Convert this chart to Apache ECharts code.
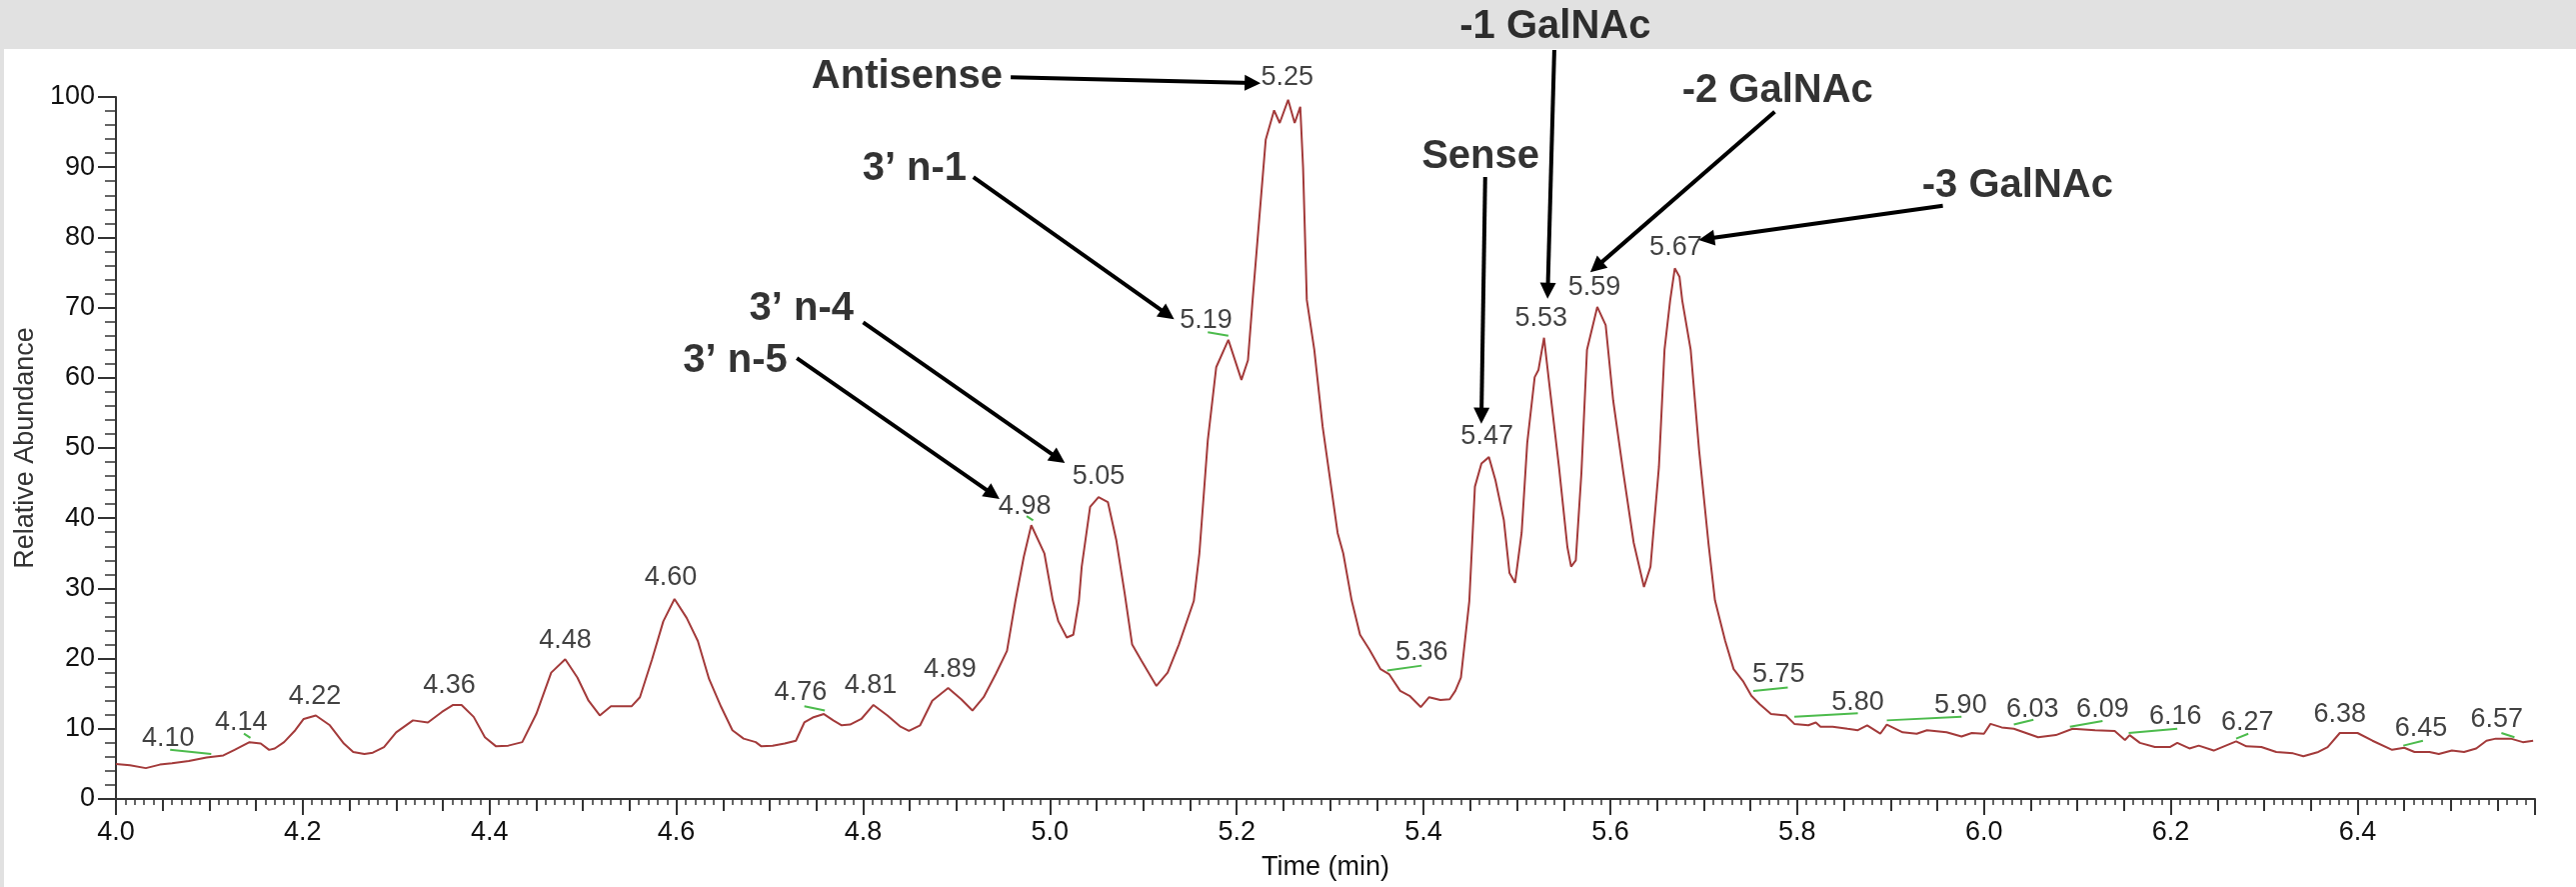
<!DOCTYPE html>
<html>
<head>
<meta charset="utf-8">
<title>Chromatogram</title>
<script src="https://cdn.jsdelivr.net/npm/echarts@6/dist/echarts.min.js"></script>
<style>
  html, body { margin: 0; padding: 0; background: #fff; }
  #chart { width: 2577px; height: 887px; }
</style>
</head>
<body>
<div id="chart"></div>
<script>
// trace: retention time (min) / relative abundance
const timeMin = [
  4.000, 4.015, 4.032, 4.047, 4.060, 4.078, 4.097, 4.115, 4.127, 4.143, 4.155, 4.164, 4.170, 4.180, 4.192,
  4.201, 4.214, 4.229, 4.244, 4.254, 4.266, 4.275, 4.287, 4.300, 4.318, 4.334, 4.349, 4.361, 4.370, 4.383,
  4.395, 4.407, 4.420, 4.435, 4.450, 4.466, 4.481, 4.494, 4.506, 4.518, 4.530, 4.552, 4.561, 4.574, 4.586,
  4.598, 4.611, 4.623, 4.635, 4.648, 4.660, 4.672, 4.685, 4.691, 4.703, 4.716, 4.728, 4.737, 4.746, 4.758,
  4.768, 4.777, 4.786, 4.798, 4.811, 4.826, 4.840, 4.849, 4.861, 4.874, 4.891, 4.905, 4.917, 4.929, 4.942,
  4.954, 4.963, 4.972, 4.980, 4.994, 5.003, 5.009, 5.018, 5.025, 5.031, 5.034, 5.043, 5.052, 5.062, 5.071,
  5.080, 5.088, 5.098, 5.114, 5.126, 5.138, 5.154, 5.160, 5.169, 5.178, 5.191, 5.205, 5.212, 5.217, 5.231,
  5.240, 5.246, 5.255, 5.262, 5.268, 5.271, 5.275, 5.283, 5.292, 5.308, 5.314, 5.323, 5.332, 5.342, 5.354,
  5.363, 5.375, 5.385, 5.397, 5.406, 5.418, 5.428, 5.434, 5.440, 5.449, 5.455, 5.462, 5.470, 5.477, 5.486,
  5.492, 5.498, 5.505, 5.511, 5.519, 5.523, 5.529, 5.535, 5.545, 5.554, 5.558, 5.563, 5.569, 5.575, 5.586,
  5.595, 5.603, 5.614, 5.625, 5.636, 5.643, 5.652, 5.658, 5.664, 5.669, 5.674, 5.677, 5.686, 5.695, 5.705,
  5.712, 5.723, 5.732, 5.742, 5.751, 5.760, 5.772, 5.788, 5.797, 5.812, 5.820, 5.825, 5.838, 5.854, 5.865,
  5.875, 5.889, 5.896, 5.913, 5.928, 5.939, 5.960, 5.976, 5.987, 6.000, 6.007, 6.019, 6.032, 6.045, 6.058,
  6.077, 6.095, 6.119, 6.140, 6.151, 6.156, 6.167, 6.183, 6.199, 6.207, 6.220, 6.230, 6.246, 6.257, 6.270,
  6.281, 6.297, 6.313, 6.331, 6.342, 6.358, 6.368, 6.381, 6.400, 6.416, 6.437, 6.450, 6.461, 6.477, 6.487,
  6.501, 6.514, 6.527, 6.538, 6.548, 6.564, 6.577, 6.588
];
const abundance = [
  5.0, 4.8, 4.4, 4.9, 5.1, 5.4, 5.9, 6.2, 7.0, 8.1, 7.9, 7.0, 7.2, 8.1, 9.8,
  11.4, 11.9, 10.5, 7.9, 6.7, 6.4, 6.6, 7.4, 9.5, 11.2, 10.9, 12.4, 13.4, 13.4, 11.7,
  8.8, 7.5, 7.6, 8.1, 12.1, 18.0, 19.9, 17.3, 14.0, 11.9, 13.2, 13.2, 14.5, 19.9, 25.3,
  28.5, 25.8, 22.5, 17.1, 13.1, 9.8, 8.6, 8.1, 7.5, 7.6, 7.9, 8.3, 10.9, 11.6, 12.1,
  11.2, 10.5, 10.6, 11.4, 13.4, 11.9, 10.3, 9.7, 10.5, 14.0, 15.8, 14.2, 12.6, 14.5, 17.8,
  21.1, 28.2, 34.5, 39.0, 35.0, 28.3, 25.3, 23.0, 23.4, 28.2, 33.1, 41.6, 43.0, 42.3, 36.9,
  29.3, 22.0, 19.7, 16.1, 18.0, 22.0, 28.2, 35.0, 51.1, 61.5, 65.4, 59.7, 62.5, 71.1, 93.9,
  98.1, 96.3, 99.6, 96.3, 98.6, 90.0, 71.1, 64.0, 53.0, 37.9, 35.0, 28.3, 23.4, 21.3, 18.5,
  17.8, 15.4, 14.7, 13.1, 14.5, 14.1, 14.2, 15.4, 17.3, 28.2, 44.5, 47.8, 48.7, 45.4, 39.7,
  32.2, 30.8, 37.9, 50.7, 60.1, 61.1, 65.7, 58.7, 47.3, 35.9, 33.1, 34.0, 46.4, 64.0, 70.1,
  67.5, 56.8, 46.4, 36.5, 30.2, 33.1, 47.3, 64.0, 71.0, 75.6, 74.4, 71.0, 64.0, 49.7, 36.5,
  28.3, 22.5, 18.5, 16.8, 14.7, 13.5, 12.1, 11.9, 10.7, 10.5, 10.9, 10.3, 10.3, 10.0, 9.8,
  10.5, 9.3, 10.6, 9.5, 9.3, 9.8, 9.5, 8.9, 9.4, 9.3, 10.7, 10.2, 10.0, 9.4, 8.8,
  9.1, 10.0, 9.8, 9.7, 8.4, 9.1, 8.0, 7.4, 7.4, 8.0, 7.2, 7.6, 6.9, 7.5, 8.2,
  7.5, 7.4, 6.7, 6.5, 6.1, 6.7, 7.4, 9.4, 9.4, 8.3, 7.0, 7.3, 6.7, 6.7, 6.4,
  6.9, 6.7, 7.2, 8.3, 8.6, 8.6, 8.1, 8.3
];

// retention-time labels printed over the peaks (text, time, height)
const peakText = ['4.10', '4.14', '4.22', '4.36', '4.48', '4.60', '4.76', '4.81', '4.89', '4.98', '5.05',
  '5.19', '5.25', '5.36', '5.47', '5.53', '5.59', '5.67', '5.75', '5.80', '5.90', '6.03', '6.09', '6.16',
  '6.27', '6.38', '6.45', '6.57'];
const peakTime = [4.056, 4.134, 4.213, 4.357, 4.481, 4.594, 4.733, 4.808, 4.893, 4.973, 5.052,
  5.167, 5.254, 5.398, 5.468, 5.526, 5.583, 5.670, 5.780, 5.865, 5.975, 6.052, 6.127, 6.205,
  6.282, 6.381, 6.468, 6.549];
const peakLevel = [8.6, 10.9, 14.6, 16.1, 22.6, 31.6, 15.1, 16.1, 18.4, 41.7, 45.9,
  68.1, 102.7, 20.9, 51.6, 68.5, 72.8, 78.6, 17.7, 13.8, 13.3, 12.8, 12.7, 11.7,
  10.9, 12.1, 10.0, 11.3];

// integration baselines: [t1, v1, t2, v2]
const baselines = [
  [4.058, 7.0, 4.102, 6.4], [4.137, 9.3, 4.144, 8.7], [4.737, 13.2, 4.759, 12.6],
  [4.975, 40.3, 4.982, 39.7], [5.169, 66.5, 5.191, 66.0], [5.361, 18.3, 5.398, 19.0],
  [5.753, 15.4, 5.790, 15.9], [5.797, 11.7, 5.865, 12.2], [5.896, 11.2, 5.976, 11.7],
  [6.032, 10.6, 6.053, 11.3], [6.092, 10.3, 6.127, 11.1], [6.155, 9.4, 6.207, 10.0],
  [6.270, 8.6, 6.283, 9.3], [6.449, 7.6, 6.470, 8.3], [6.554, 9.4, 6.568, 8.8]
];

// peak identities and their arrows
const annoText = ['Antisense', '3’ n-1', '3’ n-4', '3’ n-5', 'Sense', '-1 GalNAc', '-2 GalNAc', '-3 GalNAc'];
const annoTime = [4.847, 4.855, 4.734, 4.663, 5.461, 5.541, 5.779, 6.036];
const annoLevel = [102.8, 89.7, 69.8, 62.4, 91.5, 110.0, 100.9, 87.3];
const arrows = [
  [4.958, 102.8, 5.217, 102.0],
  [4.918, 88.6, 5.126, 69.0],
  [4.800, 67.9, 5.009, 48.5],
  [4.729, 62.8, 4.939, 43.4],
  [5.466, 88.6, 5.462, 54.6],
  [5.540, 106.7, 5.533, 72.4],
  [5.776, 97.9, 5.585, 75.8],
  [5.956, 84.5, 5.703, 79.8]
];

const font = 'Liberation Sans, Arial, sans-serif';
const chart = echarts.init(document.getElementById('chart'), null, { renderer: 'canvas' });

const option = {
  animation: false,
  backgroundColor: '#ffffff',
  graphic: [
    { type: 'rect', z: -10, shape: { x: 0, y: 0, width: 2577, height: 49 }, style: { fill: '#e1e1e1' } },
    { type: 'rect', z: -10, shape: { x: 0, y: 0, width: 4, height: 887 }, style: { fill: '#e1e1e1' } }
  ],
  grid: { left: 116, right: 41, top: 97, bottom: 88 },
  xAxis: [
    {
      type: 'value',
      position: 'bottom',
      min: 4.0,
      max: 6.59,
      interval: 0.05,
      name: 'Time (min)',
      nameLocation: 'middle',
      nameGap: 55,
      nameTextStyle: { fontFamily: font, fontSize: 27, color: '#111' },
      axisLine: { lineStyle: { color: '#333', width: 2 } },
      axisTick: { length: 12, lineStyle: { color: '#333', width: 2 } },
      minorTick: { show: true, splitNumber: 5, length: 6, lineStyle: { color: '#333', width: 1.5 } },
      splitLine: { show: false },
      axisLabel: {
        showMaxLabel: false,
        margin: 20,
        fontFamily: font,
        fontSize: 27,
        color: '#111',
        formatter: function (v) {
          return Math.abs(v * 5 - Math.round(v * 5)) < 1e-6 ? v.toFixed(1) : '';
        }
      }
    },
    {
      // longer ticks on the labelled 0.2 min steps
      type: 'value',
      position: 'bottom',
      min: 4.0,
      max: 6.59,
      interval: 0.2,
      axisLine: { show: false },
      axisTick: { length: 16, lineStyle: { color: '#333', width: 2 } },
      axisLabel: { show: false },
      splitLine: { show: false }
    }
  ],
  yAxis: {
    type: 'value',
    min: 0,
    max: 100,
    interval: 10,
    name: 'Relative Abundance',
    nameLocation: 'middle',
    nameGap: 76,
    nameTextStyle: { fontFamily: font, fontSize: 27, color: '#333' },
    axisLine: { show: true, lineStyle: { color: '#333', width: 2 } },
    axisTick: { show: true, length: 18, lineStyle: { color: '#333', width: 2 } },
    minorTick: { show: true, splitNumber: 5, length: 11, lineStyle: { color: '#333', width: 1.5 } },
    splitLine: { show: false },
    axisLabel: { margin: 21, fontFamily: font, fontSize: 27, color: '#111' }
  },
  series: [
    {
      type: 'line',
      data: timeMin.map((t, i) => [t, abundance[i]]),
      showSymbol: false,
      lineStyle: { color: '#a33a3a', width: 2 },
      silent: true,
      z: 3
    },
    {
      type: 'lines',
      coordinateSystem: 'cartesian2d',
      clip: false,
      silent: true,
      symbol: ['none', 'none'],
      lineStyle: { color: '#4cbb4c', width: 2, opacity: 1 },
      data: baselines.map(b => ({ coords: [[b[0], b[1]], [b[2], b[3]]] })),
      z: 4
    },
    {
      type: 'scatter',
      clip: false,
      silent: true,
      symbolSize: 1,
      itemStyle: { color: 'transparent' },
      label: { show: true, position: 'inside', formatter: '{b}', fontFamily: font, fontSize: 27, color: '#111' },
      data: peakText.map((s, i) => ({ name: s, value: [peakTime[i], peakLevel[i]] })),
      z: 5
    },
    {
      type: 'lines',
      coordinateSystem: 'cartesian2d',
      clip: false,
      silent: true,
      symbol: ['none', 'triangle'],
      symbolSize: [15, 16],
      lineStyle: { color: '#000', width: 4, opacity: 1 },
      data: arrows.map(a => ({ coords: [[a[0], a[1]], [a[2], a[3]]] })),
      z: 6
    },
    {
      type: 'scatter',
      clip: false,
      silent: true,
      symbolSize: 1,
      itemStyle: { color: 'transparent' },
      label: { show: true, position: 'inside', formatter: '{b}', fontFamily: font, fontSize: 40, fontWeight: 'bold', color: '#000' },
      data: annoText.map((s, i) => ({ name: s, value: [annoTime[i], annoLevel[i]] })),
      z: 7
    }
  ]
};

chart.setOption(option);
</script>
</body>
</html>
